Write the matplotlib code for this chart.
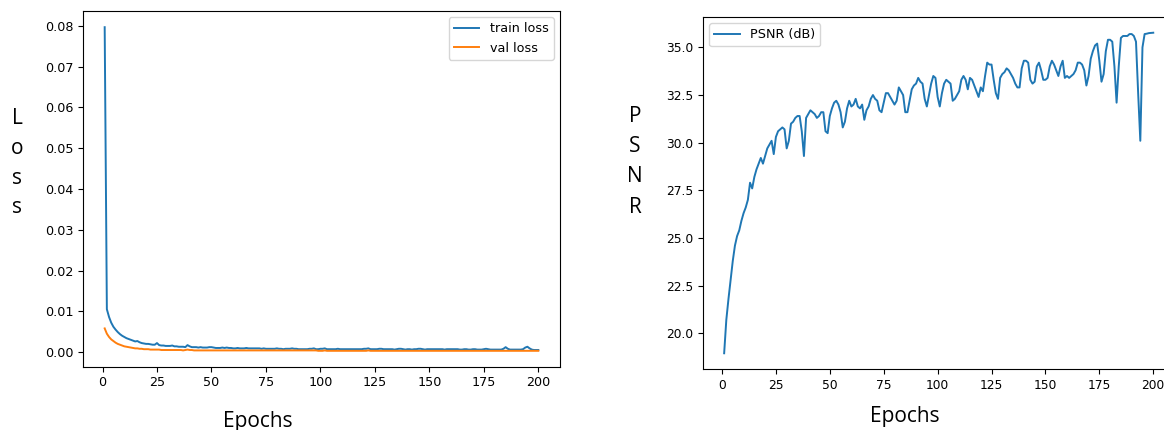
import numpy as np
import matplotlib.pyplot as plt

# values, one per epoch
epochs = np.arange(1, 201)

train_loss = [
    0.0797, 0.0105, 0.0086, 0.0072, 0.0062, 0.0055, 0.0049, 0.0044, 0.0040, 0.0037,
    0.0034, 0.0032, 0.0030, 0.0028, 0.0026, 0.0027, 0.0024, 0.0022, 0.0021, 0.0020,
    0.0020, 0.0019, 0.0018, 0.0018, 0.0022, 0.0017, 0.0016, 0.0016, 0.0015, 0.0015,
    0.0015, 0.0016, 0.0014, 0.0014, 0.0013, 0.0013, 0.0013, 0.0012, 0.0017, 0.0014,
    0.0012, 0.0012, 0.0012, 0.0011, 0.0012, 0.0011, 0.0011, 0.0011, 0.0012, 0.0012,
    0.0011, 0.0010, 0.0010, 0.0010, 0.0011, 0.0010, 0.0011, 0.0010, 0.0010, 0.0009,
    0.0009, 0.0010, 0.0009, 0.0009, 0.0009, 0.0010, 0.0009, 0.0009, 0.0009, 0.0009,
    0.0009, 0.0009, 0.0008, 0.0009, 0.0008, 0.0008, 0.0008, 0.0008, 0.0008, 0.0009,
    0.0008, 0.0008, 0.0007, 0.0008, 0.0008, 0.0008, 0.0009, 0.0008, 0.0008, 0.0007,
    0.0007, 0.0007, 0.0007, 0.0007, 0.0008, 0.0008, 0.0009, 0.0007, 0.0007, 0.0008,
    0.0008, 0.0009, 0.0007, 0.0007, 0.0007, 0.0007, 0.0007, 0.0008, 0.0007, 0.0007,
    0.0007, 0.0007, 0.0007, 0.0007, 0.0007, 0.0007, 0.0007, 0.0007, 0.0007, 0.0008,
    0.0008, 0.0009, 0.0007, 0.0007, 0.0007, 0.0007, 0.0008, 0.0008, 0.0007, 0.0007,
    0.0007, 0.0007, 0.0007, 0.0006, 0.0007, 0.0008, 0.0008, 0.0007, 0.0006, 0.0007,
    0.0007, 0.0006, 0.0007, 0.0007, 0.0008, 0.0008, 0.0007, 0.0006, 0.0007, 0.0007,
    0.0007, 0.0007, 0.0007, 0.0007, 0.0007, 0.0007, 0.0006, 0.0007, 0.0007, 0.0007,
    0.0007, 0.0007, 0.0007, 0.0006, 0.0006, 0.0007, 0.0007, 0.0006, 0.0006, 0.0007,
    0.0007, 0.0006, 0.0006, 0.0006, 0.0007, 0.0008, 0.0007, 0.0006, 0.0006, 0.0006,
    0.0006, 0.0006, 0.0006, 0.0008, 0.0012, 0.0008, 0.0006, 0.0006, 0.0006, 0.0006,
    0.0006, 0.0006, 0.0007, 0.0011, 0.0013, 0.0009, 0.0006, 0.0005, 0.0005, 0.0005,
]

val_loss = [
    0.0058, 0.0045, 0.0037, 0.0031, 0.0027, 0.0023, 0.0020, 0.0018, 0.0016, 0.0014,
    0.0013, 0.0012, 0.0011, 0.0010, 0.0009, 0.0009, 0.0008, 0.0008, 0.0007, 0.0007,
    0.0007, 0.0006, 0.0006, 0.0006, 0.0006, 0.0006, 0.0005, 0.0005, 0.0005, 0.0005,
    0.0005, 0.0005, 0.0005, 0.0005, 0.0005, 0.0005, 0.0004, 0.0005, 0.0006, 0.0005,
    0.0005, 0.0004, 0.0004, 0.0004, 0.0004, 0.0004, 0.0004, 0.0004, 0.0004, 0.0004,
    0.0004, 0.0004, 0.0004, 0.0004, 0.0004, 0.0004, 0.0004, 0.0004, 0.0004, 0.0004,
    0.0004, 0.0004, 0.0004, 0.0004, 0.0004, 0.0004, 0.0004, 0.0004, 0.0004, 0.0004,
    0.0004, 0.0004, 0.0004, 0.0004, 0.0004, 0.0004, 0.0004, 0.0004, 0.0004, 0.0004,
    0.0004, 0.0004, 0.0004, 0.0004, 0.0004, 0.0004, 0.0004, 0.0004, 0.0004, 0.0004,
    0.0004, 0.0004, 0.0004, 0.0004, 0.0004, 0.0004, 0.0004, 0.0004, 0.0003, 0.0003,
    0.0003, 0.0004, 0.0003, 0.0003, 0.0003, 0.0003, 0.0003, 0.0003, 0.0003, 0.0003,
    0.0003, 0.0003, 0.0003, 0.0003, 0.0003, 0.0003, 0.0003, 0.0003, 0.0003, 0.0003,
    0.0003, 0.0004, 0.0003, 0.0003, 0.0003, 0.0003, 0.0003, 0.0003, 0.0003, 0.0003,
    0.0003, 0.0003, 0.0003, 0.0003, 0.0003, 0.0003, 0.0003, 0.0003, 0.0003, 0.0003,
    0.0003, 0.0003, 0.0003, 0.0003, 0.0003, 0.0003, 0.0003, 0.0003, 0.0003, 0.0003,
    0.0003, 0.0003, 0.0003, 0.0003, 0.0003, 0.0003, 0.0003, 0.0003, 0.0003, 0.0003,
    0.0003, 0.0003, 0.0003, 0.0003, 0.0003, 0.0003, 0.0003, 0.0003, 0.0003, 0.0003,
    0.0003, 0.0003, 0.0003, 0.0003, 0.0003, 0.0003, 0.0003, 0.0003, 0.0003, 0.0003,
    0.0003, 0.0003, 0.0003, 0.0003, 0.0003, 0.0003, 0.0003, 0.0003, 0.0003, 0.0003,
    0.0003, 0.0003, 0.0003, 0.0003, 0.0003, 0.0003, 0.0003, 0.0003, 0.0003, 0.0003,
]

psnr = [
    18.95, 20.7, 21.8, 22.8, 23.8, 24.6, 25.1, 25.4, 25.9, 26.3,
    26.6, 27.0, 27.9, 27.6, 28.2, 28.6, 28.9, 29.2, 28.9, 29.3,
    29.7, 29.9, 30.1, 29.4, 30.3, 30.6, 30.7, 30.8, 30.7, 29.7,
    30.1, 31.0, 31.1, 31.3, 31.4, 31.4, 30.6, 29.3, 31.3, 31.5,
    31.7, 31.6, 31.5, 31.3, 31.4, 31.6, 31.6, 30.6, 30.5, 31.4,
    31.8, 32.1, 32.2, 32.0, 31.6, 30.8, 31.1, 31.8, 32.2, 31.9,
    32.0, 32.3, 31.9, 31.8, 32.0, 31.2, 31.7, 31.9, 32.3, 32.5,
    32.3, 32.2, 31.7, 31.6, 32.1, 32.6, 32.6, 32.4, 32.2, 32.0,
    32.2, 32.9, 32.7, 32.5, 31.6, 31.6, 32.2, 32.8, 33.0, 33.1,
    33.4, 33.2, 33.1, 32.3, 31.9, 32.5, 33.1, 33.5, 33.4, 32.4,
    31.9, 32.6, 33.1, 33.3, 33.2, 33.1, 32.2, 32.3, 32.5, 32.7,
    33.3, 33.5, 33.3, 32.8, 33.4, 33.3, 33.0, 32.7, 32.4, 32.9,
    32.7, 33.5, 34.2, 34.1, 34.1, 33.3, 32.6, 32.3, 33.4, 33.6,
    33.7, 33.9, 33.8, 33.6, 33.4, 33.1, 32.9, 32.9, 33.9, 34.3,
    34.3, 34.2, 33.3, 33.1, 33.2, 34.0, 34.2, 33.8, 33.3, 33.3,
    33.4, 34.0, 34.3, 34.1, 33.8, 33.5, 34.0, 34.3, 33.4, 33.5,
    33.4, 33.5, 33.6, 33.8, 34.2, 34.2, 34.1, 33.8, 33.0, 33.5,
    34.4, 34.8, 35.1, 35.2, 34.3, 33.2, 33.6, 34.8, 35.4, 35.4,
    35.3, 34.0, 32.1, 34.0, 35.5, 35.6, 35.6, 35.6, 35.7, 35.7,
    35.6, 35.3, 32.6, 30.1, 35.0, 35.7, 35.72, 35.75, 35.76, 35.77,
]

W, H = 1164, 430
fig = plt.figure(figsize=(W / 100, H / 100), dpi=100)

label_font = "Open Sans"

# left panel: losses
ax1 = fig.add_axes([83 / W, (H - 367) / H, (560 - 83) / W, (367 - 11) / H])
ax1.plot(epochs, train_loss, color="#1f77b4", lw=1.4, label="train loss")
ax1.plot(epochs, val_loss, color="#ff7f0e", lw=1.4, label="val loss")
ax1.set_xticks([0, 25, 50, 75, 100, 125, 150, 175, 200])
ax1.set_yticks([0.00, 0.01, 0.02, 0.03, 0.04, 0.05, 0.06, 0.07, 0.08])
ax1.tick_params(labelsize=9.2, length=3.3)
ax1.legend(loc="upper right", fontsize=9.2)

# right panel: PSNR (axes runs past the right edge like the original)
ax2 = fig.add_axes([702.7 / W, (H - 369.3) / H, (1174.7 - 702.7) / W, (369.3 - 16.7) / H])
ax2.plot(epochs, psnr, color="#1f77b4", lw=1.4, label="PSNR (dB)")
ax2.set_xticks([0, 25, 50, 75, 100, 125, 150, 175, 200])
ax2.set_yticks([20.0, 22.5, 25.0, 27.5, 30.0, 32.5, 35.0])
ax2.tick_params(labelsize=8.8, length=3.3)
ax2.legend(loc="upper left", fontsize=9.2)

# stacked y labels and x labels
for ch, y in zip("Loss", [118, 148, 178, 207]):
    fig.text(17 / W, 1 - y / H, ch, family=label_font, fontsize=15,
             ha="center", va="center")
for ch, y in zip("PSNR", [117, 147, 177, 207]):
    fig.text(635 / W, 1 - y / H, ch, family=label_font, fontsize=15,
             ha="center", va="center")
fig.text(258 / W, 1 - 427 / H, "Epochs", family=label_font, fontsize=15,
         ha="center", va="baseline")
fig.text(905 / W, 1 - 421.7 / H, "Epochs", family=label_font, fontsize=15,
         ha="center", va="baseline")

fig.savefig("out.png", dpi=100)
